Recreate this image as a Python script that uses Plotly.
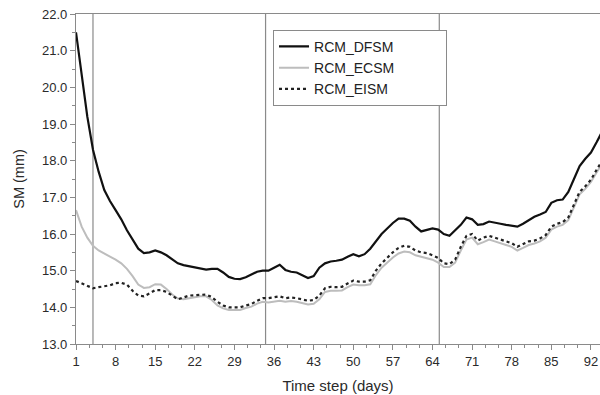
import plotly.graph_objects as go

days = list(range(1, 95))

rcm_dfsm = [21.5, 20.3, 19.2, 18.3, 17.7, 17.2, 16.9, 16.65, 16.4, 16.1,
            15.85, 15.6, 15.48, 15.5, 15.55, 15.5, 15.42, 15.3, 15.2, 15.15,
            15.12, 15.07, 15.05, 15.03, 15.05, 15.05, 14.95, 14.83, 14.78, 14.77,
            14.82, 14.9, 14.97, 15.0, 15.0, 15.08, 15.16, 15.02, 14.97, 14.95,
            14.88, 14.8, 14.85, 15.08, 15.2, 15.25, 15.27, 15.3, 15.38, 15.45,
            15.39, 15.45, 15.6, 15.8, 16.0, 16.15, 16.3, 16.42, 16.42, 16.36,
            16.2, 16.07, 16.1, 16.15, 16.12, 16.0, 15.95, 16.1, 16.25, 16.45,
            16.4, 16.25, 16.27, 16.34, 16.3, 16.28, 16.25, 16.22, 16.2, 16.28,
            16.38, 16.47, 16.53, 16.6, 16.85, 16.92, 16.94, 17.15, 17.5, 17.85,
            18.05, 18.22, 18.5, 18.8]

rcm_ecsm = [16.65, 16.2, 15.9, 15.68, 15.55, 15.47, 15.38, 15.3, 15.2, 15.05,
            14.85, 14.62, 14.53, 14.55, 14.63, 14.62, 14.5, 14.35, 14.24, 14.22,
            14.25, 14.28, 14.3, 14.3, 14.2, 14.05, 13.97, 13.93, 13.92, 13.93,
            13.98, 14.02, 14.1, 14.15, 14.13, 14.15, 14.18, 14.15, 14.17, 14.15,
            14.12, 14.08, 14.1, 14.22, 14.42, 14.45, 14.45, 14.46, 14.55, 14.62,
            14.6, 14.6, 14.63, 14.88, 15.08, 15.22, 15.36, 15.47, 15.52, 15.5,
            15.42, 15.38, 15.35, 15.3, 15.22, 15.1, 15.1, 15.22, 15.55, 15.85,
            15.9, 15.72, 15.78, 15.85, 15.8, 15.76, 15.7, 15.65, 15.55, 15.62,
            15.7, 15.74, 15.8, 15.9, 16.12, 16.2, 16.25, 16.38, 16.72, 17.08,
            17.23, 17.42, 17.68, 17.92]

rcm_eism = [14.72, 14.65, 14.57, 14.52, 14.55, 14.58, 14.6, 14.66, 14.67, 14.62,
            14.45, 14.32, 14.3, 14.38, 14.47, 14.47, 14.42, 14.32, 14.22, 14.27,
            14.32, 14.33, 14.35, 14.35, 14.28, 14.15, 14.05, 14.0, 14.0, 14.0,
            14.05, 14.09, 14.18, 14.25, 14.25, 14.28, 14.3, 14.25, 14.27, 14.25,
            14.22, 14.18, 14.2, 14.32, 14.52, 14.56, 14.55, 14.56, 14.65, 14.73,
            14.7, 14.7, 14.74, 15.0, 15.2, 15.35, 15.5, 15.62, 15.68, 15.65,
            15.55, 15.5, 15.48, 15.42, 15.35, 15.2, 15.18, 15.3, 15.65, 15.95,
            16.0, 15.82, 15.9, 15.95, 15.9, 15.86, 15.8, 15.75, 15.65, 15.72,
            15.8, 15.82, 15.88, 15.97, 16.2, 16.28, 16.32, 16.45, 16.8, 17.15,
            17.3, 17.48, 17.75, 18.0]

x_ticks = [1, 8, 15, 22, 29, 36, 43, 50, 57, 64, 71, 78, 85, 92]
y_ticks = [13, 14, 15, 16, 17, 18, 19, 20, 21, 22]
period_marks = [4, 34.5, 65.2]

FONT = "Liberation Sans, Arial, sans-serif"
PAD = "\u00a0" * 12

fig = go.Figure()
fig.add_trace(go.Scatter(x=days, y=rcm_ecsm, name="RCM_ECSM" + PAD, mode="lines",
                         line=dict(color="#bdbdbd", width=2), legendrank=2))
fig.add_trace(go.Scatter(x=days, y=rcm_eism, name="RCM_EISM" + PAD, mode="lines",
                         line=dict(color="#222222", width=2.2, dash="dot"), legendrank=3))
fig.add_trace(go.Scatter(x=days, y=rcm_dfsm, name="RCM_DFSM" + PAD, mode="lines",
                         line=dict(color="#111111", width=2.2), legendrank=1))

for m in period_marks:
    fig.add_shape(type="line", xref="x", yref="paper", x0=m, x1=m, y0=0, y1=1,
                  line=dict(color="#8a8a8a", width=1.2), layer="below")

fig.update_layout(
    width=600, height=395,
    margin=dict(l=76, r=0, t=14, b=51),
    paper_bgcolor="white", plot_bgcolor="white",
    font=dict(family=FONT, color="#333333"),
    showlegend=True,
    legend=dict(x=0.376, y=0.952, xanchor="left", yanchor="top",
                bgcolor="white", bordercolor="#8a8a8a", borderwidth=1,
                font=dict(size=14, color="#222222"),
                traceorder="normal", tracegroupgap=0, itemwidth=30),
    xaxis=dict(range=[1, 93.6], tickmode="array", tickvals=x_ticks,
               ticktext=[str(v) for v in x_ticks],
               showgrid=False, zeroline=False,
               showline=True, linecolor="#8a8a8a", linewidth=1.2, mirror=True,
               ticks="outside", ticklen=5, tickcolor="#8a8a8a",
               minor=dict(ticks="outside", ticklen=3, tickcolor="#8a8a8a",
                          tick0=1, dtick=7/3),
               tickfont=dict(size=13, color="#2a2a2a", family=FONT),
               title=dict(text="Time step (days)", font=dict(size=15, color="#2a2a2a"),
                          standoff=12)),
    yaxis=dict(range=[13, 22], tickmode="array", tickvals=y_ticks,
               ticktext=[f"{v:.1f}" for v in y_ticks],
               showgrid=False, zeroline=False,
               showline=True, linecolor="#8a8a8a", linewidth=1.2,
               ticks="outside", ticklen=5, tickcolor="#8a8a8a",
               minor=dict(ticks="outside", ticklen=3, tickcolor="#8a8a8a",
                          tick0=13, dtick=0.5),
               tickfont=dict(size=13, color="#2a2a2a", family=FONT),
               title=dict(text="SM (mm)", font=dict(size=14.5, color="#2a2a2a"),
                          standoff=13)),
)

fig.write_html("out.html")
